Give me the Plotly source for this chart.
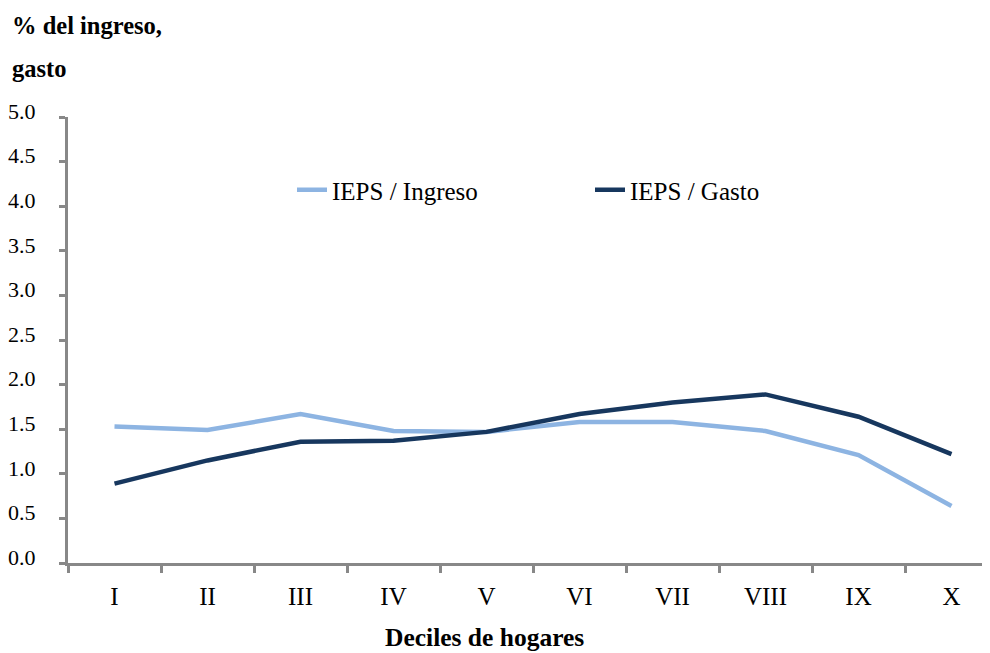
import plotly.graph_objects as go

deciles = ["I", "II", "III", "IV", "V", "VI", "VII", "VIII", "IX", "X"]
ieps_ingreso = [1.53, 1.49, 1.67, 1.48, 1.47, 1.58, 1.58, 1.48, 1.21, 0.64]
ieps_gasto = [0.89, 1.15, 1.36, 1.37, 1.47, 1.67, 1.80, 1.89, 1.64, 1.22]
y_ticks = [0.0, 0.5, 1.0, 1.5, 2.0, 2.5, 3.0, 3.5, 4.0, 4.5, 5.0]

FONT = "Liberation Serif, Times New Roman, serif"

# page body has an 8px default margin; compensate so the plot lands where the reference has it
OFF = 8
PLOT_L, PLOT_R, PLOT_T, PLOT_B = 68, 990, 117, 563
W, H = 990, 653
PW, PH = PLOT_R - PLOT_L, PLOT_B - PLOT_T


def px(x):
    return (x - PLOT_L) / PW


def py(y):
    return (PLOT_B - y) / PH


fig = go.Figure()
fig.add_trace(go.Scatter(x=deciles, y=ieps_ingreso, mode="lines", name="IEPS / Ingreso",
                         line=dict(color="#8DB4E2", width=4.5)))
fig.add_trace(go.Scatter(x=deciles, y=ieps_gasto, mode="lines", name="IEPS / Gasto",
                         line=dict(color="#17375E", width=4.5)))

fig.update_layout(
    width=W, height=H,
    margin=dict(l=PLOT_L - OFF, r=W - (PLOT_R - OFF), t=PLOT_T - OFF, b=H - (PLOT_B - OFF), autoexpand=False),
    paper_bgcolor="white", plot_bgcolor="white",
    font=dict(family=FONT, size=23, color="#000000"),
    showlegend=True,
    legend=dict(orientation="h", x=px(292), y=py(190), xanchor="left", yanchor="middle",
                font=dict(family=FONT, size=25), entrywidth=253, entrywidthmode="pixels",
                bgcolor="rgba(0,0,0,0)"),
    xaxis=dict(type="category", range=[-0.5, 9.414], tickson="boundaries",
               ticks="outside", ticklen=7, tickwidth=3, tickcolor="#888888",
               showline=True, linecolor="#888888", linewidth=3,
               showgrid=False, zeroline=False, ticklabelstandoff=9,
               tickfont=dict(family=FONT, size=25)),
    yaxis=dict(range=[0, 5], tickvals=y_ticks, ticktext=[f"{v:.1f}" for v in y_ticks],
               ticks="outside", ticklen=6, tickwidth=3, tickcolor="#888888",
               showline=True, linecolor="#888888", linewidth=3,
               showgrid=False, zeroline=False, ticklabelstandoff=19, ticklabelshift=-6,
               tickfont=dict(family=FONT, size=22)),
    annotations=[
        dict(text="<b>% del ingreso,</b>", xref="paper", yref="paper", x=px(10), y=py(25),
             xanchor="left", yanchor="middle", showarrow=False, font=dict(family=FONT, size=24.5)),
        dict(text="<b>gasto</b>", xref="paper", yref="paper", x=px(10), y=py(68),
             xanchor="left", yanchor="middle", showarrow=False, font=dict(family=FONT, size=24.5)),
        dict(text="<b>Deciles de hogares</b>", xref="paper", yref="paper", x=px(484), y=py(637),
             xanchor="center", yanchor="middle", showarrow=False, font=dict(family=FONT, size=25.5)),
    ],
)

fig.write_html("out.html")
